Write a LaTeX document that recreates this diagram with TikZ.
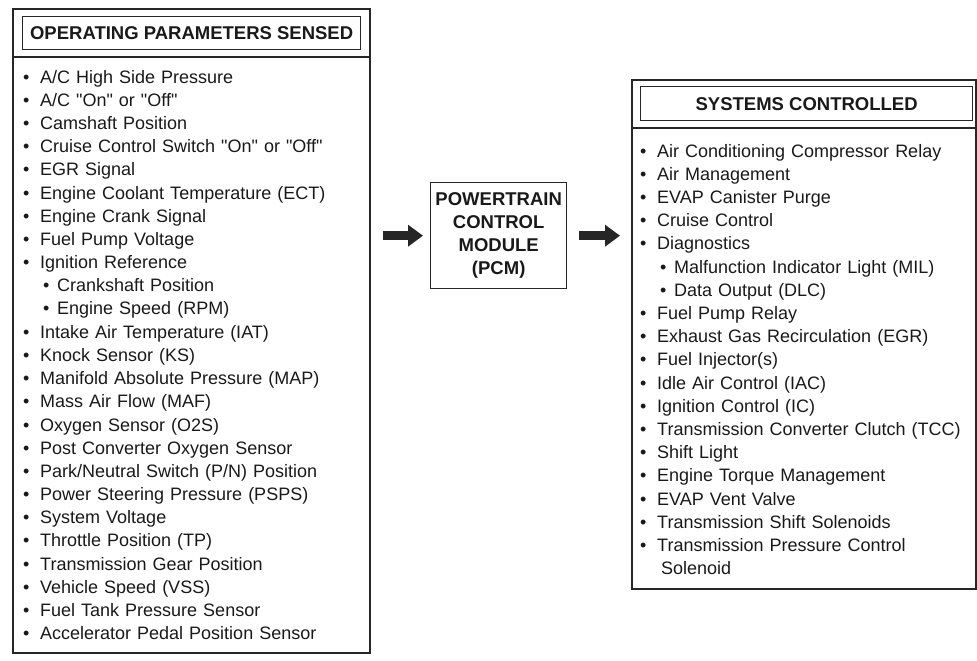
\documentclass[tikz,border=0pt]{standalone}
\usepackage{fontspec}
\setmainfont{Liberation Sans}
\usepackage{tikz}
\usetikzlibrary{
  arrows.meta,
  positioning,
  calc
}
\tikzset{
  outerbox/.style={draw=black!85, line width=1.6pt, inner sep=0pt},
  headbox/.style={draw=black!85, line width=1.3pt, inner sep=0pt,
    align=center, font=\fontsize{18.5}{22}\selectfont\bfseries},
  pcmbox/.style={draw=black!85, line width=1.4pt, inner sep=0pt,
    align=center, font=\fontsize{18.5}{23}\selectfont\bfseries},
  listtext/.style={anchor=base west, inner sep=0pt, text width=330pt,
    align=left, font=\fontsize{18}{23.2}\selectfont},
  blockarr/.style={-{Triangle[length=15pt,width=21pt]}, line width=9pt, black!85},
}
\newcommand{\itm}[1]{\makebox[17pt][l]{\textbullet}#1}
\newcommand{\subitm}[1]{\hspace*{20pt}\makebox[14pt][l]{\textbullet}#1}
\newcommand{\qt}[1]{\textquotedbl#1\textquotedbl}

\begin{document}
\begin{tikzpicture}[x=1pt, y=-1pt, text=black!90]
  \useasboundingbox (0,0) rectangle (977,661);

  % Sensed parameters
  \node[outerbox, minimum width=357pt, minimum height=644pt,
        anchor=north west] (params) at (12,8) {};
  \node[headbox, minimum width=338pt, minimum height=33pt,
        anchor=north west] (paramshead) at (22,16)
    {OPERATING PARAMETERS SENSED};
  \draw[line width=1.3pt, black!85] (params.west |- 0,57) -- (params.east |- 0,57);
  \node[listtext] (paramslist) at (23,83) {
    \itm{A/C High Side Pressure}\\
    \itm{A/C \qt{On} or \qt{Off}}\\
    \itm{Camshaft Position}\\
    \itm{Cruise Control Switch \qt{On} or \qt{Off}}\\
    \itm{EGR Signal}\\
    \itm{Engine Coolant Temperature (ECT)}\\
    \itm{Engine Crank Signal}\\
    \itm{Fuel Pump Voltage}\\
    \itm{Ignition Reference}\\
    \subitm{Crankshaft Position}\\
    \subitm{Engine Speed (RPM)}\\
    \itm{Intake Air Temperature (IAT)}\\
    \itm{Knock Sensor (KS)}\\
    \itm{Manifold Absolute Pressure (MAP)}\\
    \itm{Mass Air Flow (MAF)}\\
    \itm{Oxygen Sensor (O2S)}\\
    \itm{Post Converter Oxygen Sensor}\\
    \itm{Park/Neutral Switch (P/N) Position}\\
    \itm{Power Steering Pressure (PSPS)}\\
    \itm{System Voltage}\\
    \itm{Throttle Position (TP)}\\
    \itm{Transmission Gear Position}\\
    \itm{Vehicle Speed (VSS)}\\
    \itm{Fuel Tank Pressure Sensor}\\
    \itm{Accelerator Pedal Position Sensor}
  };

  % Module
  \node[pcmbox, minimum width=136pt, minimum height=106pt,
        anchor=north west] (pcm) at (430,182)
    {POWERTRAIN\\CONTROL\\MODULE\\(PCM)};

  % Controlled systems
  \node[outerbox, minimum width=344pt, minimum height=509pt,
        anchor=north west] (systems) at (631,79) {};
  \node[headbox, minimum width=332pt, minimum height=34pt,
        anchor=north west] (systemshead) at (640,86)
    {SYSTEMS CONTROLLED};
  \draw[line width=1.3pt, black!85] (systems.west |- 0,128) -- (systems.east |- 0,128);
  \node[listtext] (systemslist) at (640,157) {
    \itm{Air Conditioning Compressor Relay}\\
    \itm{Air Management}\\
    \itm{EVAP Canister Purge}\\
    \itm{Cruise Control}\\
    \itm{Diagnostics}\\
    \subitm{Malfunction Indicator Light (MIL)}\\
    \subitm{Data Output (DLC)}\\
    \itm{Fuel Pump Relay}\\
    \itm{Exhaust Gas Recirculation (EGR)}\\
    \itm{Fuel Injector(s)}\\
    \itm{Idle Air Control (IAC)}\\
    \itm{Ignition Control (IC)}\\
    \itm{Transmission Converter Clutch (TCC)}\\
    \itm{Shift Light}\\
    \itm{Engine Torque Management}\\
    \itm{EVAP Vent Valve}\\
    \itm{Transmission Shift Solenoids}\\
    \itm{Transmission Pressure Control}\\
    \hspace*{21pt}Solenoid
  };

  % Arrows
  \draw[blockarr] ([xshift=12pt]params.east |- pcm.west) -- ([xshift=-7pt]pcm.west);
  \draw[blockarr] ([xshift=12pt]pcm.east) -- ([xshift=-11pt]pcm.east -| systems.west);
\end{tikzpicture}
\end{document}
